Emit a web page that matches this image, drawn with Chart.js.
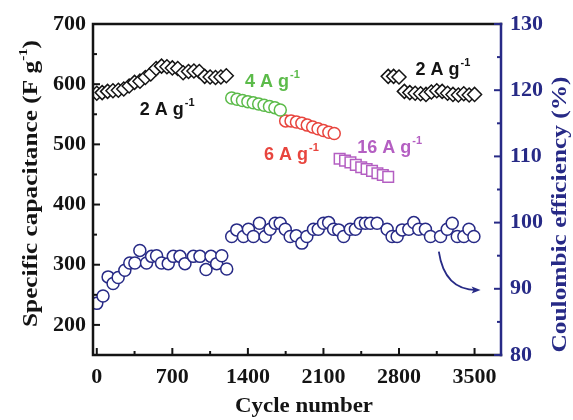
<!DOCTYPE html>
<html>
<head>
<meta charset="utf-8">
<script src="https://cdn.jsdelivr.net/npm/chart.js@4.4.0/dist/chart.umd.min.js"></script>
<style>
    html, body { margin: 0; padding: 0; background: #fff; }
    #wrap { width: 573px; height: 420px; position: relative; }
</style>
</head>
<body>
<div id="wrap"><canvas id="chart"></canvas></div>
<script>
// Capacitance / coulombic efficiency vs cycle number

// Axis ticks
const X_TICKS = [0, 700, 1400, 2100, 2800, 3500];
const X_MINOR = [350, 1050, 1750, 2450, 3150];
const CAP_TICKS = [200, 300, 400, 500, 600, 700];
const CAP_MINOR = [250, 350, 450, 550, 650];
const CE_TICKS = [80, 90, 100, 110, 120, 130];
const CE_MINOR = [85, 95, 105, 115, 125];

// Specific capacitance (F g-1), left axis
const CYC_2A_FIRST = [0, 50, 100, 150, 200, 250, 300, 350, 400, 450, 500, 550, 600, 650, 700, 750, 800, 850, 900, 950, 1000, 1050, 1100, 1150, 1200];
const CAP_2A_FIRST = [585, 586, 588, 589, 590, 592, 597, 603, 605, 611, 617, 626, 630, 629, 627, 626, 619, 621, 622, 621, 613, 612, 611, 612, 614];

const CYC_4A = [1250, 1300, 1350, 1400, 1450, 1500, 1550, 1600, 1650, 1700];
const CAP_4A = [577, 575, 573, 571, 569, 567, 565, 563, 561, 557];

const CYC_6A = [1750, 1800, 1850, 1900, 1950, 2000, 2050, 2100, 2150, 2200];
const CAP_6A = [539, 539, 537, 535, 532, 529, 526, 523, 520, 518];

const CYC_16A = [2250, 2300, 2350, 2400, 2450, 2500, 2550, 2600, 2650, 2700];
const CAP_16A = [476, 473, 470, 466, 462, 459, 456, 452, 449, 446];

const CYC_2A_SECOND = [2700, 2750, 2800, 2850, 2900, 2950, 3000, 3050, 3100, 3150, 3200, 3250, 3300, 3350, 3400, 3450, 3500];
const CAP_2A_SECOND = [613, 613, 612, 588, 586, 585, 584, 583, 587, 589, 588, 585, 583, 582, 584, 582, 583];

// Coulombic efficiency (%), right axis
const CYC_CE = [0, 58, 105, 151, 198, 260, 306, 353, 399, 461, 508, 554, 600, 662, 709, 771, 817, 895, 956, 1012, 1058, 1111, 1158, 1204,
    1250, 1297, 1359, 1405, 1451, 1507, 1560, 1606, 1653, 1699, 1746, 1792, 1848, 1900, 1946, 2008, 2052, 2101, 2148, 2194, 2241, 2287,
    2349, 2396, 2442, 2489, 2535, 2597, 2690, 2736, 2783, 2829, 2891, 2937, 2983, 3045, 3092, 3185, 3247, 3293, 3340, 3401, 3448, 3494];
const CE = [87.8, 88.9, 91.8, 90.8, 91.7, 92.8, 93.9, 93.9, 95.8, 93.9, 94.9, 95.0, 93.9, 93.8, 94.9, 94.9, 93.8, 94.9, 94.9, 92.9, 94.9, 93.8, 95.0, 93.0,
    97.9, 98.9, 97.9, 99.0, 97.9, 99.9, 97.9, 99.0, 99.9, 99.9, 99.0, 97.9, 98.0, 96.9, 97.9, 99.0, 99.0, 99.9, 100.0, 99.0, 98.9, 97.9,
    99.0, 99.0, 99.9, 99.9, 99.9, 99.9, 99.0, 97.9, 97.9, 98.9, 99.0, 100.0, 99.0, 99.0, 97.9, 97.9, 99.0, 99.9, 97.9, 97.9, 99.0, 97.9];

// Colours
const INK = '#141414';
const NAVY = '#272a86';
const GREEN = '#5cbb4a';
const RED = '#e8453e';
const MAGENTA = '#b45fc2';

// Current-density labels, anchored in data units (cycle, capacitance)
const RATE_LABELS = [
    { text: '2 A g', at: [399, 549], color: INK },
    { text: '4 A g', at: [1374, 595], color: GREEN },
    { text: '6 A g', at: [1550, 474], color: RED },
    { text: '16 A g', at: [2414, 486], color: MAGENTA },
    { text: '2 A g', at: [2953, 615], color: INK }
];

// Arrow pointing to the right axis, in data units (cycle, efficiency)
const ARROW = { from: [3169, 95.6], ctrl: [3222, 89.8], to: [3556, 89.8] };

const SERIF = '"Liberation Serif", "Times New Roman", serif';
const SANS = '"Liberation Sans", Arial, sans-serif';

const pairs = (xs, ys) => xs.map((v, i) => ({ x: v, y: ys[i] }));

function runsWidth(ctx, runs, size, family) {
    let w = 0;
    runs.forEach(r => {
        ctx.font = `bold ${r.sup ? Math.round(size * 0.6) : size}px ${family}`;
        w += ctx.measureText(r.t).width;
    });
    return w;
}

// Draw text runs (with optional superscripts) centred at x,y, rotated, stretched to fit
function drawRuns(ctx, runs, x, y, size, family, color, rot, fitWidth) {
    const w = runsWidth(ctx, runs, size, family);
    const sx = fitWidth ? fitWidth / w : 1;
    ctx.save();
    ctx.translate(x, y);
    ctx.rotate(rot || 0);
    ctx.scale(sx, 1);
    ctx.fillStyle = color;
    ctx.textBaseline = 'alphabetic';
    ctx.textAlign = 'left';
    let cx = -w / 2;
    runs.forEach(r => {
        const s = r.sup ? Math.round(size * 0.6) : size;
        ctx.font = `bold ${s}px ${family}`;
        ctx.fillText(r.t, cx, r.sup ? -size * 0.45 : 0);
        cx += ctx.measureText(r.t).width;
    });
    ctx.restore();
}

const decorations = {
    id: 'decorations',
    afterDatasetsDraw(chart) {
        const { ctx, chartArea: a } = chart;
        const { x, y, y2 } = chart.scales;
        ctx.save();

        // Frame
        ctx.lineWidth = 2.5;
        ctx.lineCap = 'square';
        ctx.strokeStyle = INK;
        ctx.beginPath();
        ctx.moveTo(a.right, a.top);
        ctx.lineTo(a.left, a.top);
        ctx.lineTo(a.left, a.bottom);
        ctx.lineTo(a.right, a.bottom);
        ctx.stroke();
        ctx.strokeStyle = NAVY;
        ctx.beginPath();
        ctx.moveTo(a.right, a.top);
        ctx.lineTo(a.right, a.bottom);
        ctx.stroke();

        // Inward ticks
        ctx.lineWidth = 2;
        ctx.lineCap = 'butt';
        const tick = (vals, len, fn) => vals.forEach(v => { ctx.beginPath(); fn(v, len); ctx.stroke(); });
        ctx.strokeStyle = INK;
        const onLeft = (v, len) => { const p = y.getPixelForValue(v); ctx.moveTo(a.left, p); ctx.lineTo(a.left + len, p); };
        const onBottom = (v, len) => { const p = x.getPixelForValue(v); ctx.moveTo(p, a.bottom); ctx.lineTo(p, a.bottom - len); };
        tick(CAP_TICKS, 7, onLeft);
        tick(CAP_MINOR, 4, onLeft);
        tick(X_TICKS, 7, onBottom);
        tick(X_MINOR, 4, onBottom);
        ctx.strokeStyle = NAVY;
        const onRight = (v, len) => { const p = y2.getPixelForValue(v); ctx.moveTo(a.right, p); ctx.lineTo(a.right - len, p); };
        tick(CE_TICKS, 7, onRight);
        tick(CE_MINOR, 4, onRight);

        // Rate labels
        RATE_LABELS.forEach(l => {
            const px = x.getPixelForValue(l.at[0]);
            const py = y.getPixelForValue(l.at[1]);
            ctx.fillStyle = l.color;
            ctx.textBaseline = 'alphabetic';
            ctx.textAlign = 'left';
            ctx.font = `bold 18px ${SANS}`;
            ctx.fillText(l.text, px, py);
            const w = ctx.measureText(l.text).width;
            ctx.font = `bold 11px ${SANS}`;
            ctx.fillText('-1', px + w + 1, py - 9);
        });

        // Arrow
        const ax = (p) => [x.getPixelForValue(p[0]), y2.getPixelForValue(p[1])];
        const s = ax(ARROW.from), c = ax(ARROW.ctrl), e = ax(ARROW.to);
        ctx.strokeStyle = NAVY;
        ctx.fillStyle = NAVY;
        ctx.lineWidth = 1.8;
        ctx.beginPath();
        ctx.moveTo(s[0], s[1]);
        ctx.quadraticCurveTo(c[0], c[1], e[0] - 4, e[1]);
        ctx.stroke();
        const ang = Math.atan2(e[1] - c[1], e[0] - c[0]);
        ctx.save();
        ctx.translate(e[0], e[1]);
        ctx.rotate(ang);
        ctx.beginPath();
        ctx.moveTo(0, 0);
        ctx.lineTo(-9, -3.5);
        ctx.lineTo(-7, 0);
        ctx.lineTo(-9, 3.5);
        ctx.closePath();
        ctx.fill();
        ctx.restore();

        // Axis titles
        const midY = (a.top + a.bottom) / 2;
        drawRuns(ctx, [{ t: 'Specific capacitance (F g' }, { t: '-1', sup: true }, { t: ')' }],
            37, midY - 6, 22, SERIF, INK, -Math.PI / 2, 287);
        drawRuns(ctx, [{ t: 'Coulombic efficiency (%)' }],
            566, midY + 25, 22, SERIF, NAVY, -Math.PI / 2, 276);
        drawRuns(ctx, [{ t: 'Cycle number' }],
            (a.left + a.right) / 2 + 7, 412, 22, SERIF, INK, 0, 138);

        ctx.restore();
    }
};

const marker = (label, data, style, radius, color, axis) => ({
    label,
    data,
    yAxisID: axis,
    showLine: false,
    pointStyle: style,
    pointRadius: radius,
    pointBorderWidth: 1.5,
    pointBorderColor: color,
    pointBackgroundColor: '#ffffff',
    borderColor: color,
    backgroundColor: '#ffffff'
});

const tickFont = { family: SERIF, size: 22, weight: 'bold' };
const plain = (v) => String(v);

new Chart(document.getElementById('chart'), {
    type: 'scatter',
    data: {
        datasets: [
            marker('Coulombic efficiency', pairs(CYC_CE, CE), 'circle', 6, NAVY, 'y2'),
            marker('2 A g-1', pairs(CYC_2A_FIRST, CAP_2A_FIRST), 'rectRot', 7, INK, 'y'),
            marker('4 A g-1', pairs(CYC_4A, CAP_4A), 'circle', 6, GREEN, 'y'),
            marker('6 A g-1', pairs(CYC_6A, CAP_6A), 'circle', 6, RED, 'y'),
            marker('16 A g-1', pairs(CYC_16A, CAP_16A), 'rect', 7.5, MAGENTA, 'y'),
            marker('2 A g-1 (return)', pairs(CYC_2A_SECOND, CAP_2A_SECOND), 'rectRot', 7, INK, 'y')
        ]
    },
    options: {
        responsive: true,
        maintainAspectRatio: false,
        animation: false,
        layout: { padding: { top: 24, left: 0, right: 0, bottom: 0 } },
        plugins: {
            legend: { display: false },
            tooltip: { enabled: false }
        },
        scales: {
            x: {
                type: 'linear',
                position: 'bottom',
                min: -35,
                max: 3745,
                grid: { display: false, drawTicks: false },
                border: { display: false },
                ticks: { font: tickFont, color: INK, padding: 9, maxRotation: 0, callback: plain },
                afterBuildTicks: (s) => { s.ticks = X_TICKS.map(v => ({ value: v })); },
                afterFit: (s) => { s.height = 65; }
            },
            y: {
                type: 'linear',
                position: 'left',
                min: 150,
                max: 700,
                grid: { display: false, drawTicks: false },
                border: { display: false },
                ticks: { font: tickFont, color: INK, padding: 7, callback: plain },
                afterBuildTicks: (s) => { s.ticks = CAP_TICKS.map(v => ({ value: v })); },
                afterFit: (s) => { s.width = 93; }
            },
            y2: {
                type: 'linear',
                position: 'right',
                min: 80,
                max: 130,
                grid: { display: false, drawTicks: false },
                border: { display: false },
                ticks: { font: tickFont, color: NAVY, padding: 9, callback: plain },
                afterBuildTicks: (s) => { s.ticks = CE_TICKS.map(v => ({ value: v })); },
                afterFit: (s) => { s.width = 72; }
            }
        }
    },
    plugins: [decorations]
});
</script>
</body>
</html>
